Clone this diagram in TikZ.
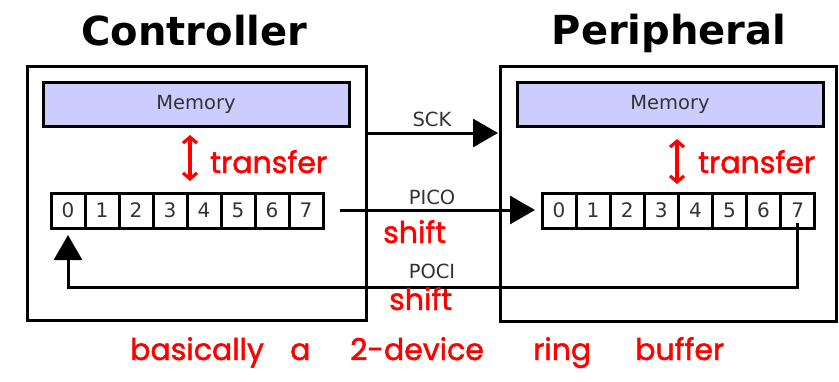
\documentclass[tikz,border=0pt]{standalone}
\usepackage{fontspec}
\setmainfont{DejaVu Sans}
\newfontfamily\handfont[FakeBold=1.6]{Poppins}
\usetikzlibrary{arrows.meta}

\definecolor{memfill}{HTML}{CCCCFF}
\definecolor{labelgray}{HTML}{333333}
\definecolor{inkred}{HTML}{FF0000}

\begin{document}
\begin{tikzpicture}[x=1pt,y=-1pt,
  box/.style={draw=black, line width=3pt, inner sep=0pt, outer sep=0pt, anchor=north west},
  membox/.style={box, fill=memfill, minimum width=306pt, minimum height=44pt,
    font=\fontsize{19.5}{19.5}\selectfont, text=labelgray},
  cell/.style={box, fill=white, minimum width=34pt, minimum height=35pt,
    font=\fontsize{20}{20}\selectfont, text=labelgray},
  title/.style={font=\fontsize{40}{40}\selectfont\bfseries, anchor=base},
  sig/.style={font=\fontsize{19.5}{19.5}\selectfont, text=labelgray, anchor=base},
  wire/.style={line width=3pt},
  bigtip/.style={-{Triangle[length=25pt,width=28pt]}},
  ink/.style={text=inkred, font=\handfont\fontsize{30}{30}\selectfont, anchor=base west, inner sep=0pt},
  inkarrow/.style={draw=inkred, line width=3.2pt, line cap=round,
    {Straight Barb[length=6pt,width=14pt,line width=3.2pt]}-{Straight Barb[length=6pt,width=14pt,line width=3.2pt]}}
]
\useasboundingbox (0,0) rectangle (839,381);

% titles
\node[title] (tctrl) at (194.5,45) {Controller};
\node[title] (tperi) at (669,44) {Peripheral};

% device outlines
\node[box, minimum width=339pt, minimum height=254pt] (ctrl) at (27,66) {};
\node[box, minimum width=336pt, minimum height=255pt] (peri) at (500,66) {};

% memories
\node[membox] (mctrl) at (43,82) {Memory};
\node[membox] (mperi) at (517,82) {Memory};

% shift registers
\foreach \i in {0,...,7} {
  \node[cell] (c\i) at ({51+34*\i},193) {\i};
  \node[cell] (p\i) at ({542+34.1*\i},193) {\i};
}

% SCK
\coordinate (sckA) at (366,133);
\coordinate (sckB) at (498,133);
\draw[wire, bigtip] (sckA) -- (sckB);
\node[sig] (lsck) at (432,126) {SCK};

% PICO
\coordinate (picoA) at (340,210);
\draw[wire, bigtip, shorten >=7pt] (picoA) -- (p0.west |- picoA);
\node[sig] (lpico) at (432,204) {PICO};

% POCI
\coordinate (pociY) at (0,287);
\draw[wire, bigtip, shorten >=7pt] ([yshift=5pt]p7.south) -- (p7.south |- pociY)
  -- (c0.south |- pociY) -- (c0.south);
\node[sig] (lpoci) at (432,278) {POCI};

% handwritten notes
\draw[inkarrow] (190,135) -- (190,181);
\draw[inkarrow] (677,139) -- (677,184);
\node[ink] (n1) at (210,173) {transfer};
\node[ink] (n2) at (698,173) {transfer};
\node[ink] (n3) at (383,243) {shift};
\node[ink] (n4) at (389,310) {shift};
\node[ink] (w1) at (130,360) {basically};
\node[ink] (w2) at (290,360) {a};
\node[ink] (w3) at (350,360) {2-device};
\node[ink] (w4) at (533,360) {ring};
\node[ink] (w5) at (635,360) {buffer};
\end{tikzpicture}
\end{document}
